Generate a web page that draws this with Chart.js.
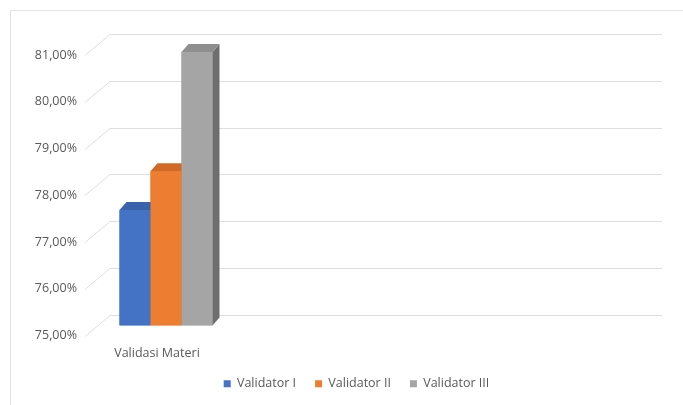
<!DOCTYPE html>
<html>
<head>
<meta charset="utf-8">
<script src="https://cdn.jsdelivr.net/npm/chart.js@4/dist/chart.umd.min.js"></script>
<style>
  html, body { margin: 0; padding: 0; background: #fff; }
  #wrap { position: relative; width: 683px; height: 405px; }
  #frame { position: absolute; left: 10px; top: 10px; width: 700px; height: 420px; border: 1px solid #e3e3e3; pointer-events: none; }
</style>
</head>
<body>
<div id="wrap">
  <canvas id="c" width="683" height="405"></canvas>
  <div id="frame"></div>
</div>
<script>
const categories = ['Validasi Materi', '', '', ''];
const seriesNames = ['Validator I', 'Validator II', 'Validator III'];
const validatorI = [77.47, null, null, null];
const validatorII = [78.3, null, null, null];
const validatorIII = [80.85, null, null, null];
const yTicks = [75, 76, 77, 78, 79, 80, 81];
const axisMin = 75;
const axisMax = 81;

const colors = ['#4472C4', '#ED7D31', '#A5A5A5'];
const topColors = ['#3a63ad', '#d06a25', '#8f8f8f'];
const sideColors = ['#2f5597', '#b85d1f', '#6e6e6e'];

const DEPTH_X = 7, DEPTH_Y = 8;      // bar depth
const BACK_X = 13, BACK_Y = 11;      // bar plane -> back wall
const FRONT_X = -12, FRONT_Y = 10;   // bar plane -> front edge
const LEGEND_SHIFT = 32;

const wallPlugin = {
  id: 'wall',
  beforeDatasetsDraw(chart) {
    const { ctx, chartArea, scales } = chart;
    const y = scales.y;
    ctx.save();
    ctx.strokeStyle = '#dedede';
    ctx.lineWidth = 1;
    yTicks.forEach(v => {
      const py = Math.round(y.getPixelForValue(v)) + 0.5;
      ctx.beginPath();
      ctx.moveTo(chartArea.left + FRONT_X, py + FRONT_Y);
      ctx.lineTo(chartArea.left + BACK_X, py - BACK_Y);
      ctx.lineTo(chartArea.right + BACK_X, py - BACK_Y);
      ctx.stroke();
    });
    ctx.restore();
  }
};

const legendShiftPlugin = {
  id: 'legendShift',
  afterLayout(chart) {
    if (chart.legend) {
      chart.legend.left += LEGEND_SHIFT;
      chart.legend.right += LEGEND_SHIFT;
    }
  }
};

const boxPlugin = {
  id: 'box3d',
  afterDatasetsDraw(chart) {
    const ctx = chart.ctx;
    ctx.save();
    chart.data.datasets.forEach((ds, i) => {
      const meta = chart.getDatasetMeta(i);
      meta.data.forEach((el, j) => {
        if (ds.data[j] == null) return;
        const p = el.getProps(['x', 'y', 'base', 'width'], true);
        const l = p.x - p.width / 2, r = p.x + p.width / 2;
        el.draw(ctx);
        ctx.fillStyle = sideColors[i];
        ctx.beginPath();
        ctx.moveTo(r, p.y);
        ctx.lineTo(r + DEPTH_X, p.y - DEPTH_Y);
        ctx.lineTo(r + DEPTH_X, p.base - DEPTH_Y);
        ctx.lineTo(r, p.base);
        ctx.closePath();
        ctx.fill();
        ctx.fillStyle = topColors[i];
        ctx.beginPath();
        ctx.moveTo(l, p.y);
        ctx.lineTo(r, p.y);
        ctx.lineTo(r + DEPTH_X, p.y - DEPTH_Y);
        ctx.lineTo(l + DEPTH_X, p.y - DEPTH_Y);
        ctx.closePath();
        ctx.fill();
      });
    });
    ctx.restore();
  }
};

const FONT = { family: 'Open Sans', size: 12.5 };

new Chart(document.getElementById('c'), {
  type: 'bar',
  data: {
    labels: categories,
    datasets: [
      { label: seriesNames[0], data: validatorI, backgroundColor: colors[0], base: axisMin },
      { label: seriesNames[1], data: validatorII, backgroundColor: colors[1], base: axisMin },
      { label: seriesNames[2], data: validatorIII, backgroundColor: colors[2], base: axisMin }
    ]
  },
  options: {
    responsive: false,
    animation: false,
    events: [],
    layout: { padding: { left: 0, right: 34, top: 45, bottom: 5 } },
    datasets: { bar: { categoryPercentage: 0.674, barPercentage: 1.0, borderWidth: 0 } },
    scales: {
      x: {
        afterFit(s) { s.height = 33; },
        grid: { display: false, drawTicks: false },
        border: { display: false },
        ticks: {
          color: '#595959',
          font: FONT,
          padding: 20,
          labelOffset: -9,
          maxRotation: 0,
          autoSkip: false
        }
      },
      y: {
        min: axisMin,
        max: axisMax,
        afterFit(s) { s.width = 97; },
        afterBuildTicks(s) { s.ticks = yTicks.map(v => ({ value: v })); },
        grid: { display: false, drawTicks: false },
        border: { display: false },
        ticks: {
          color: '#595959',
          font: FONT,
          padding: 20,
          labelOffset: 10,
          callback: v => v.toFixed(2).replace('.', ',') + '%'
        }
      }
    },
    plugins: {
      legend: {
        position: 'bottom',
        labels: {
          color: '#595959',
          font: FONT,
          usePointStyle: true,
          pointStyle: 'rect',
          boxWidth: 7,
          boxHeight: 7,
          padding: 19
        }
      },
      tooltip: { enabled: false }
    }
  },
  plugins: [wallPlugin, legendShiftPlugin, boxPlugin]
});
</script>
</body>
</html>
